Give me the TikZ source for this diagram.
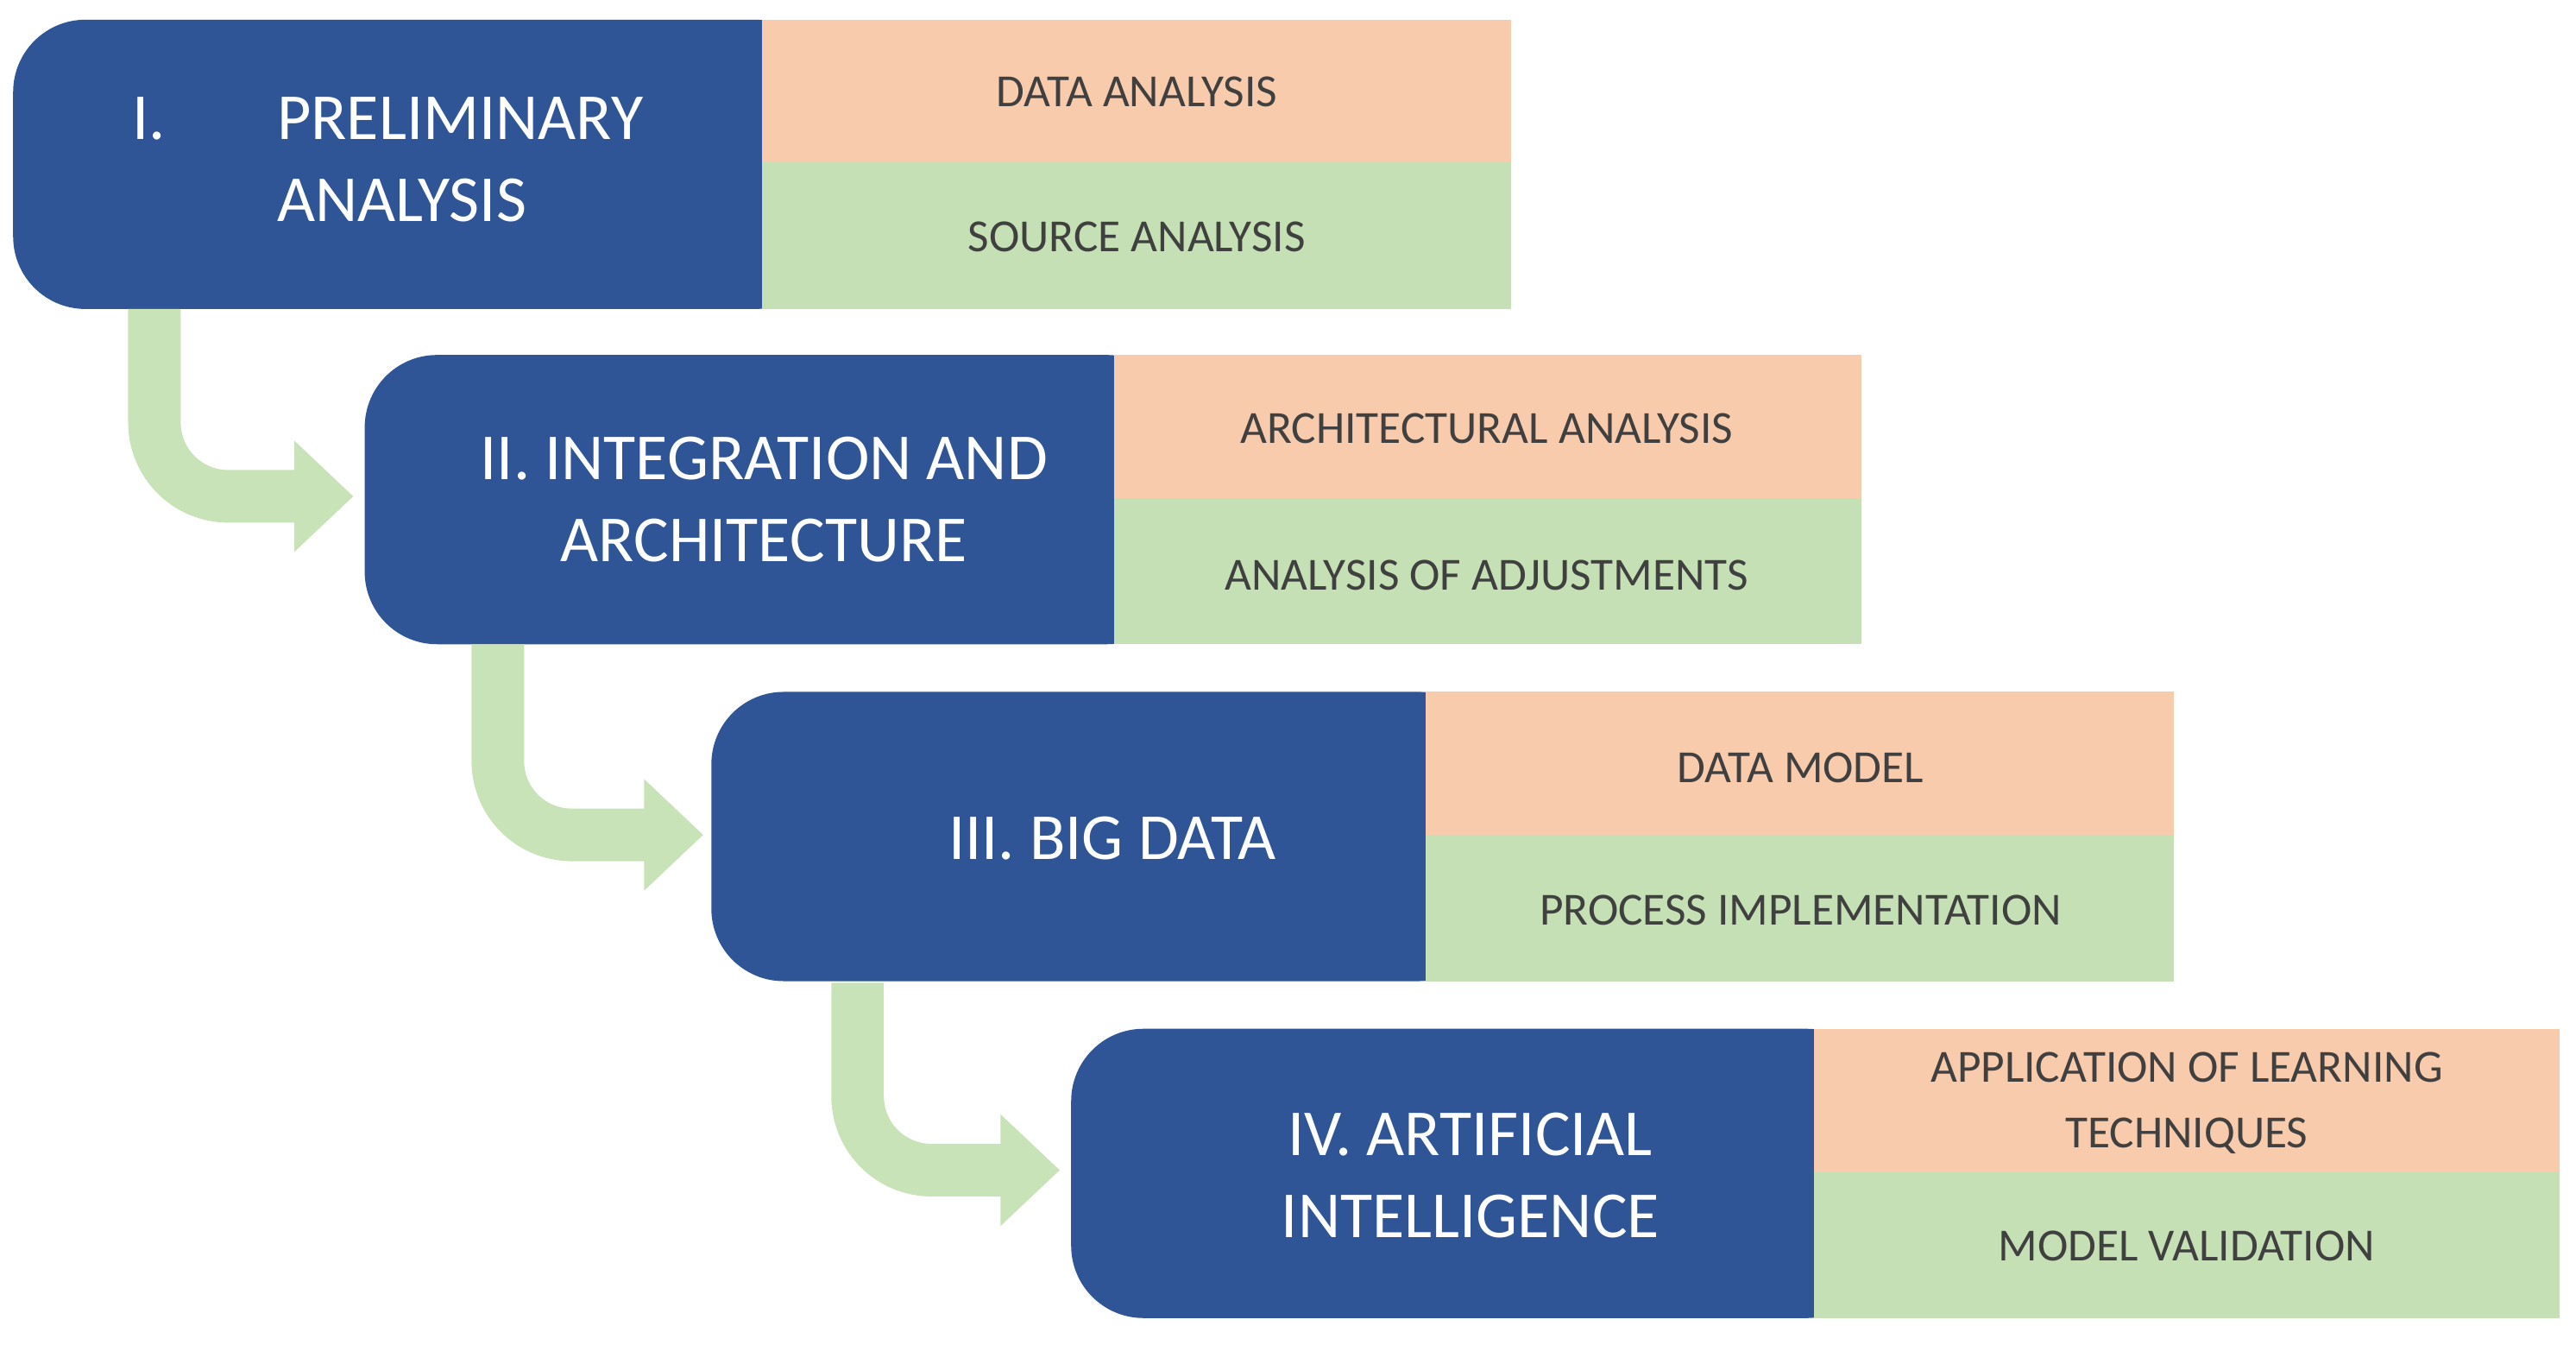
\documentclass[tikz,border=0pt]{standalone}
\usepackage{fontspec}
\setmainfont{Carlito}
\definecolor{bblue}{HTML}{2F5597}
\definecolor{borange}{HTML}{F8CBAD}
\definecolor{bgreen}{HTML}{C5E0B4}
\definecolor{agreen}{HTML}{C9E3B8}
\definecolor{tgray}{HTML}{404040}
\begin{document}
\begin{tikzpicture}[x=0.5pt,y=-0.5pt,
  title/.style={text=white,font=\fontsize{20}{25}\selectfont,align=center},
  lab/.style={text=tgray,font=\fontsize{14}{20}\selectfont,align=center},
  arr/.style={draw=agreen,line width=16pt}]
\fill[white] (0,0) rectangle (1568,818);
\useasboundingbox (0,0) rectangle (1568,818);
% blocks: #left #top
\foreach \i/\xl/\yt/\xm/\xr in {1/8/12/464/920,2/222/216/678/1133,3/433/421/868/1323,4/652/626/1104/1558}{
  \fill[bblue,rounded corners=22pt] (\xl,\yt) rectangle (\xm+40,\yt+176);
  \fill[borange] (\xm,\yt) rectangle (\xr,\yt+87);
  \fill[bgreen] (\xm,\yt+87) rectangle (\xr,\yt+176);
}
% arrows
\foreach \ax/\yb/\ty/\tx in {94/188/302/215, 303/392/508/428, 522/598/712/645}{
  \draw[arr] (\ax,\yb) -- (\ax,\ty-45) to[out=-90,in=180] (\ax+45,\ty) -- (\tx-34,\ty);
  \fill[agreen] (\tx-36,\ty-34) -- (\tx,\ty) -- (\tx-36,\ty+34) -- cycle;
}
% titles
\node[title] (t1) at (236,100) {\begin{tabular}{@{}l@{\hspace{1.7em}}l@{}}I. & PRELIMINARY\\ & ANALYSIS\end{tabular}};
\node[title] (t2) at (465,304) {II. INTEGRATION AND\\ARCHITECTURE};
\node[title] (t3) at (677,510) {III. BIG DATA};
\node[title] (t4) at (895,715) {IV. ARTIFICIAL\\INTELLIGENCE};
% labels
\node[lab] (a1) at (692,56) {DATA ANALYSIS};
\node[lab] (b1) at (692,144) {SOURCE ANALYSIS};
\node[lab] (a2) at (905,261) {ARCHITECTURAL ANALYSIS};
\node[lab] (b2) at (905,350) {ANALYSIS OF ADJUSTMENTS};
\node[lab] (a3) at (1096,467) {DATA MODEL};
\node[lab] (b3) at (1096,554) {PROCESS IMPLEMENTATION};
\node[lab] (a4) at (1331,671) {APPLICATION OF LEARNING\\TECHNIQUES};
\node[lab] (b4) at (1331,758) {MODEL VALIDATION};
\end{tikzpicture}
\end{document}
